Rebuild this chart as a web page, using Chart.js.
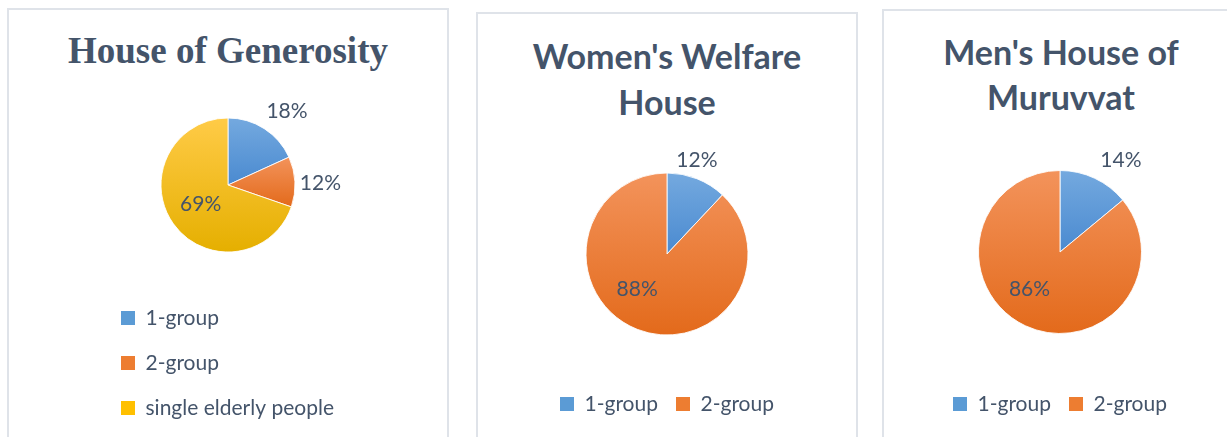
<!DOCTYPE html>
<html>
<head>
<meta charset="utf-8">
<script src="https://cdn.jsdelivr.net/npm/chart.js@4.4.1/dist/chart.umd.min.js"></script>
<style>
  html, body { margin: 0; padding: 0; background: #fff; }
  body { width: 1227px; height: 437px; position: relative; overflow: hidden; }
  .panel { position: absolute; box-sizing: border-box; border: 2px solid #DFE3E9; background: #fff; }
  .title { position: absolute; text-align: center; color: #44546A; white-space: nowrap; }
  canvas { position: absolute; top: 0; }
</style>
</head>
<body>
<div class="panel" style="left:7px;top:8px;width:442px;height:470px"></div>
<div class="panel" style="left:476px;top:12px;width:382px;height:470px"></div>
<div class="panel" style="left:882px;top:9px;width:400px;height:470px"></div>

<div class="title" style="left:28px;top:28.5px;width:400px;font:bold 37px/44px 'Liberation Serif', serif">House of Generosity</div>
<div class="title" style="left:477px;top:32.8px;width:380px;font:bold 34px/46px Lato, sans-serif">Women's Welfare<br>House</div>
<div class="title" style="left:883px;top:29.3px;width:356px;font:bold 34px/45px Lato, sans-serif">Men's House of<br>Muruvvat</div>

<canvas id="pieGenerosity" width="262" height="437" style="left:97px"></canvas>
<canvas id="pieWelfare" width="380" height="437" style="left:477px"></canvas>
<canvas id="pieMuruvvat" width="352" height="437" style="left:884px"></canvas>

<script>
// datos (%)
const generosityLabels = ['1-group', '2-group', 'single elderly people'];
const generosityValues = [18, 12, 69];

const welfareLabels = ['1-group', '2-group'];
const welfareValues = [12, 88];

const muruvvatLabels = ['1-group', '2-group'];
const muruvvatValues = [14, 86];

const textColor = '#44546A';
const baseColors = ['#5B9BD5', '#ED7D31', '#FFC000'];
const sliceColors = [['#74A9DF', '#4A8AD0'], ['#F3935B', '#E36A1B'], ['#FFCB47', '#E5AF00']];

// degradado vertical por porcion, del alto de la propia porcion
function sliceGradient(c) {
    const chart = c.chart;
    const area = chart.chartArea;
    const pair = sliceColors[c.dataIndex];
    if (!area) return pair[0];
    const data = c.dataset.data;
    const total = data.reduce((a, b) => a + b, 0);
    let before = 0;
    for (let i = 0; i < c.dataIndex; i++) before += data[i];
    const a0 = -Math.PI / 2 + 2 * Math.PI * before / total;
    const a1 = a0 + 2 * Math.PI * data[c.dataIndex] / total;
    const cy = (area.top + area.bottom) / 2;
    const r = c.dataset.radius;
    const ys = [0, Math.sin(a0), Math.sin(a1)];
    [-Math.PI / 2, Math.PI / 2, 3 * Math.PI / 2].forEach(k => { if (k > a0 && k < a1) ys.push(Math.sin(k)); });
    const g = chart.ctx.createLinearGradient(0, cy + r * Math.min(...ys), 0, cy + r * Math.max(...ys));
    g.addColorStop(0, pair[0]);
    g.addColorStop(1, pair[1]);
    return g;
}

// etiquetas de porcentaje sobre cada porcion
const sliceLabels = {
    id: 'sliceLabels',
    afterDatasetsDraw(chart, args, opts) {
        const ctx = chart.ctx;
        const values = chart.data.datasets[0].data;
        ctx.save();
        ctx.font = '21px Lato';
        ctx.fillStyle = textColor;
        ctx.textAlign = 'center';
        ctx.textBaseline = 'middle';
        chart.getDatasetMeta(0).data.forEach((arc, i) => {
            const [f, shift] = opts.place[i];
            const a = (arc.startAngle + arc.endAngle) / 2 + shift * Math.PI / 180;
            const r = arc.outerRadius * f;
            ctx.fillText(values[i] + '%', arc.x + Math.cos(a) * r, arc.y + Math.sin(a) * r);
        });
        ctx.restore();
    }
};

function crearPie(id, labels, values, cfg) {
    new Chart(document.getElementById(id), {
        type: 'pie',
        data: {
            labels: labels,
            datasets: [{
                data: values,
                radius: cfg.radius,
                backgroundColor: sliceGradient,
                borderColor: 'rgba(255,255,255,0.85)',
                borderWidth: 1
            }]
        },
        plugins: [sliceLabels],
        options: {
            responsive: false,
            animation: false,
            events: [],
            layout: { padding: { top: cfg.top, bottom: cfg.bottom, left: 0, right: 0 } },
            plugins: {
                tooltip: { enabled: false },
                legend: {
                    position: 'bottom',
                    align: cfg.align,
                    labels: {
                        boxWidth: 14,
                        boxHeight: 14,
                        padding: cfg.legendPadding,
                        color: textColor,
                        font: { family: 'Lato', size: 21 },
                        generateLabels: chart => chart.data.labels.map((text, i) => ({
                            text: text,
                            fillStyle: baseColors[i],
                            strokeStyle: baseColors[i],
                            lineWidth: 0,
                            fontColor: textColor,
                            hidden: false,
                            index: i
                        }))
                    }
                },
                sliceLabels: { place: cfg.place }
            }
        }
    });
}

crearPie('pieGenerosity', generosityLabels, generosityValues, {
    radius: 67, top: 86.5, bottom: 8.5, align: 'start', legendPadding: 24,
    place: [[1.41, 5.9], [1.38, 1.5], [0.50, 0.2]]
});

crearPie('pieWelfare', welfareLabels, welfareValues, {
    radius: 81, top: 132.5, bottom: 12.5, align: 'center', legendPadding: 18,
    place: [[1.21, -3.8], [0.57, 18.6]]
});

crearPie('pieMuruvvat', muruvvatLabels, muruvvatValues, {
    radius: 81.5, top: 128.5, bottom: 12.5, align: 'center', legendPadding: 18,
    place: [[1.35, 8.4], [0.59, 14.2]]
});
</script>
</body>
</html>
